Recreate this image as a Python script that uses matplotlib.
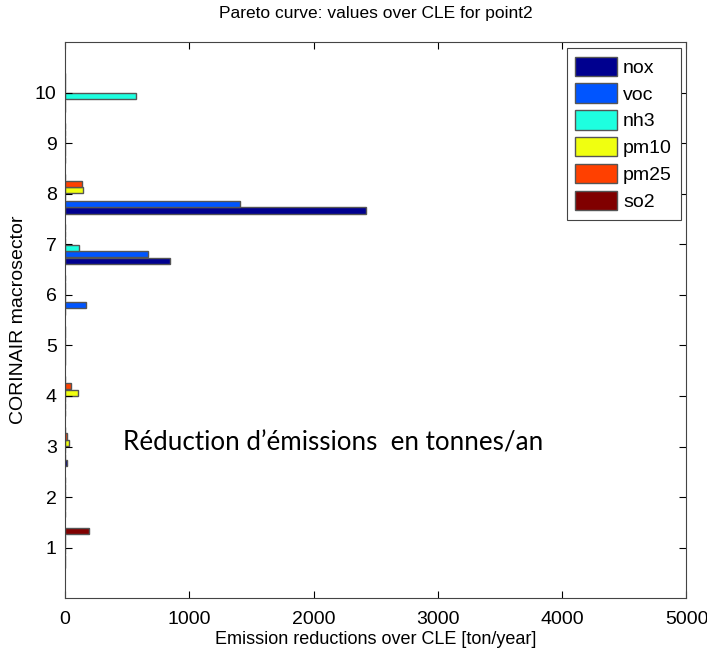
import numpy as np
from matplotlib import pyplot as plt

# emission reductions per CORINAIR macrosector (ton/year)
sectors = [1, 2, 3, 4, 5, 6, 7, 8, 9, 10]
pollutants = ['nox', 'voc', 'nh3', 'pm10', 'pm25', 'so2']
nox = [0, 0, 15, 0, 0, 0, 846, 2425, 0, 0]
voc = [0, 0, 0, 0, 0, 167, 666, 1410, 0, 0]
nh3 = [0, 0, 0, 0, 0, 0, 115, 0, 0, 572]
pm10 = [0, 0, 30, 107, 0, 0, 0, 142, 0, 0]
pm25 = [0, 0, 16, 48, 0, 0, 0, 134, 0, 0]
so2 = [193, 0, 0, 0, 0, 0, 0, 0, 0, 0]
colors = ['#00008F', '#0055FF', '#1EFFE0', '#F0FF10', '#FF4000', '#800000']


def run():
    fig = plt.figure(figsize=(7.07, 6.56), dpi=100)
    ax = fig.add_axes([0.092, 0.088, 0.879, 0.848])
    series = [nox, voc, nh3, pm10, pm25, so2]
    y = np.array(sectors, dtype=float)
    step = 0.133
    for i, (name, vals) in enumerate(zip(pollutants, series)):
        offset = (i - 2.5) * step
        ax.barh(y + offset, vals, height=0.12, color=colors[i],
                edgecolor='#555555', linewidth=1.0, label=name)

    ax.set_xlim(0, 5000)
    ax.set_ylim(0, 11)
    ax.set_xticks(np.arange(0, 5001, 1000))
    ax.set_yticks(sectors)
    ax.tick_params(direction='in', top=True, right=True, length=5,
                   labelsize=14)
    ax.tick_params(axis='x', pad=9)
    ax.tick_params(axis='y', pad=6)
    for lab in ax.get_xticklabels() + ax.get_yticklabels():
        lab.set_family('Liberation Sans')
    for sp in ax.spines.values():
        sp.set_color('#444444')

    ax.set_title('Pareto curve: values over CLE for point2',
                 family='Liberation Sans', fontsize=12.5, pad=17)
    ax.set_xlabel('Emission reductions over CLE [ton/year]',
                  family='Liberation Sans', fontsize=13, labelpad=2)
    ax.set_ylabel('CORINAIR macrosector', family='Liberation Sans',
                  fontsize=14, labelpad=6)

    leg = ax.legend(loc='upper right', handlelength=2.15,
                    handleheight=1.15, labelspacing=0.34, borderpad=0.45,
                    handletextpad=0.3, borderaxespad=0.3, fancybox=False,
                    framealpha=1, edgecolor='#444444',
                    prop={'family': 'Liberation Sans', 'size': 14})
    leg.get_frame().set_linewidth(0.8)

    ax.text(0.093, 0.28, 'Réduction d’émissions  en tonnes/an',
            transform=ax.transAxes, family='Lato', fontsize=18.7,
            va='center', ha='left')

    fig.savefig('out.png', dpi=100)


if __name__ == "__main__":
    run()
